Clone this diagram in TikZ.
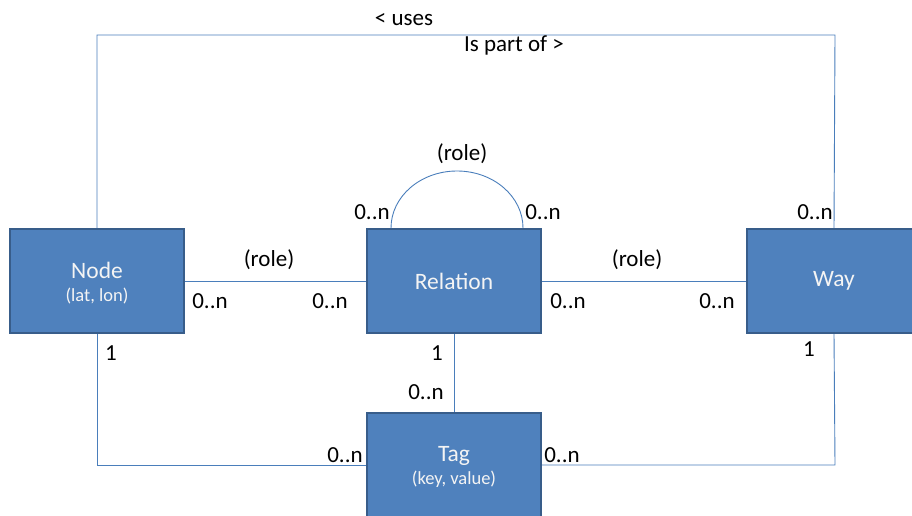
\documentclass[tikz,border=0pt]{standalone}
\usepackage{fontspec}
\setmainfont{Carlito}
\definecolor{boxfill}{HTML}{4F81BD}
\definecolor{boxedge}{HTML}{385D8A}
\definecolor{linkcol}{HTML}{4A7EBB}
\definecolor{boxtext}{HTML}{F4F4F4}
\begin{document}
\begin{tikzpicture}[x=1pt,y=-1pt,
  entity/.style={rectangle,draw=boxedge,line width=2pt,fill=boxfill,
    minimum width=174pt,minimum height=104pt,inner sep=0pt},
  caption/.style={inner sep=0pt,text=boxtext,font=\fontsize{23.5}{26}\selectfont},
  sub/.style={font=\fontsize{18.5}{21}\selectfont},
  link/.style={draw=linkcol,line width=0.9pt},
  mult/.style={inner sep=0pt,text=black,font=\fontsize{23}{26}\selectfont}]
\useasboundingbox (0,0) rectangle (912,516);

% entities
\node[entity] (node) at (97,281) {};
\node[entity] (rel)  at (454,281) {};
\node[entity] (way)  at (834,281) {};
\node[entity] (tag)  at (454,465) {};

% connectors
\coordinate (tl) at (97,35);
\coordinate (tr) at (835,35);
\coordinate (bl) at (97,465);
\coordinate (br) at (835,465);
\draw[link] (node.north) -- (tl) -- (tr) -- (way.north);
\draw[link] (node.east) -- (rel.west);
\draw[link] (rel.east) -- (way.west);
\draw[link] (rel.south) -- (tag.north);
\draw[link] (node.south) -- (bl) -- (tag.west);
\draw[link] (way.south) -- (br) -- (tag.east);
% self-relation loop over the Relation box
\coordinate (arcA) at (391,228);
\draw[link] (arcA) arc[start angle=180,end angle=360,x radius=66,y radius=57];

% entity titles
\node[caption] (nodet) at (97,270) {Node};
\node[caption,sub] (nodes) at (97,296) {(lat, lon)};
\node[caption] (relt) at (454,281) {Relation};
\node[caption] (wayt) at (834,281) {Way};
\node[caption] (tagt) at (454,456) {Tag};
\node[caption,sub] (tags) at (454,479) {(key, value)};

% role and multiplicity labels
\node[mult] (uses) at (404,20) {< uses};
\node[mult] (part) at (514,45) {Is part of >};
\node[mult] (r1) at (462,154) {(role)};
\node[mult] (r2) at (269,260) {(role)};
\node[mult] (r3) at (637,260) {(role)};
\node[mult] (m1) at (372,212) {0..n};
\node[mult] (m2) at (543,212) {0..n};
\node[mult] (m3) at (815,212) {0..n};
\node[mult] (m4) at (210,301) {0..n};
\node[mult] (m5) at (330,301) {0..n};
\node[mult] (m6) at (568,301) {0..n};
\node[mult] (m7) at (717,301) {0..n};
\node[mult] (o1) at (111,353) {1};
\node[mult] (o2) at (437,353) {1};
\node[mult] (o3) at (809,349) {1};
\node[mult] (m8) at (426,392) {0..n};
\node[mult] (m9) at (345,455) {0..n};
\node[mult] (m10) at (562,455) {0..n};
\end{tikzpicture}
\end{document}
